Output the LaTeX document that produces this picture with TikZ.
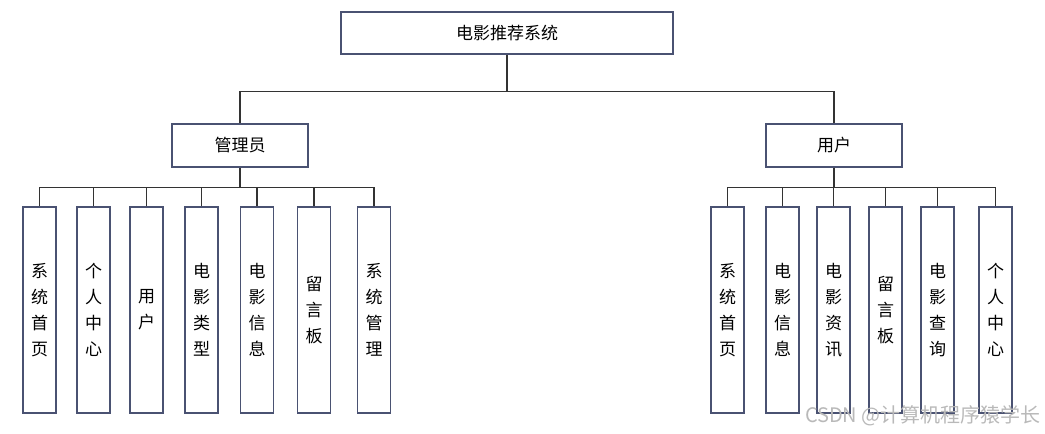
\documentclass[tikz,border=0pt]{standalone}
\usepackage{fontspec}
\setmainfont{Noto Sans CJK SC}
\usepackage{xcolor}
\usetikzlibrary{positioning}
\definecolor{boxline}{HTML}{4A5272}
\definecolor{linkline}{HTML}{333333}

\begin{document}
\begin{tikzpicture}[x=1pt, y=-1pt,
    box/.style={draw=boxline, line width=1.3pt, fill=white, inner sep=0pt, font=\fontsize{17}{19}\selectfont},
    leaf/.style={box, minimum width=33pt, minimum height=206pt, align=center, font=\fontsize{17}{26}\selectfont},
    link/.style={draw=linkline, line width=1.3pt}]
  \useasboundingbox (0,0) rectangle (1045,434);
  % top level
  \node[box, minimum width=332pt, minimum height=42pt] (sys) at (507,33) {电影推荐系统};
  \node[box, minimum width=136pt, minimum height=43pt] (admin) at (240,145.5) {管理员};
  \node[box, minimum width=136pt, minimum height=43pt] (user) at (834,145.5) {用户};
  \path (sys.south) ++(0,37) coordinate (sysbus);
  \path (admin.south) ++(0,20) coordinate (adminbus);
  \path (user.south) ++(0,20) coordinate (userbus);
  \draw[link] (sys.south) -- (sysbus);
  \draw[link] (admin.north) |- (sysbus) -| (user.north);
  \draw[link] (admin.south) -- (adminbus);
  \draw[link] (user.south) -- (userbus);
  % admin modules
  \foreach \name/\x/\txt in {a1/39.5/{系\\统\\首\\页}, a2/93.5/{个\\人\\中\\心}, a3/146.5/{用\\户},
      a4/201.5/{电\\影\\类\\型}, a5/257/{电\\影\\信\\息}, a6/314/{留\\言\\板}, a7/374/{系\\统\\管\\理}} {
    \node[leaf] (\name) at (\x,310) {\txt};
    \draw[link] (\name.north) |- (adminbus);
  }
  % user modules
  \foreach \name/\x/\txt in {u1/727.5/{系\\统\\首\\页}, u2/782.5/{电\\影\\信\\息}, u3/833.5/{电\\影\\资\\讯},
      u4/885.5/{留\\言\\板}, u5/937.5/{电\\影\\查\\询}, u6/995.5/{个\\人\\中\\心}} {
    \node[leaf] (\name) at (\x,310) {\txt};
    \draw[link] (\name.north) |- (userbus);
  }
  % watermark
  \node[anchor=east, text=gray!55, font=\fontsize{20}{22}\selectfont, inner sep=0pt] (mark) at (1041,416) {CSDN @计算机程序猿学长};
\end{tikzpicture}
\end{document}
